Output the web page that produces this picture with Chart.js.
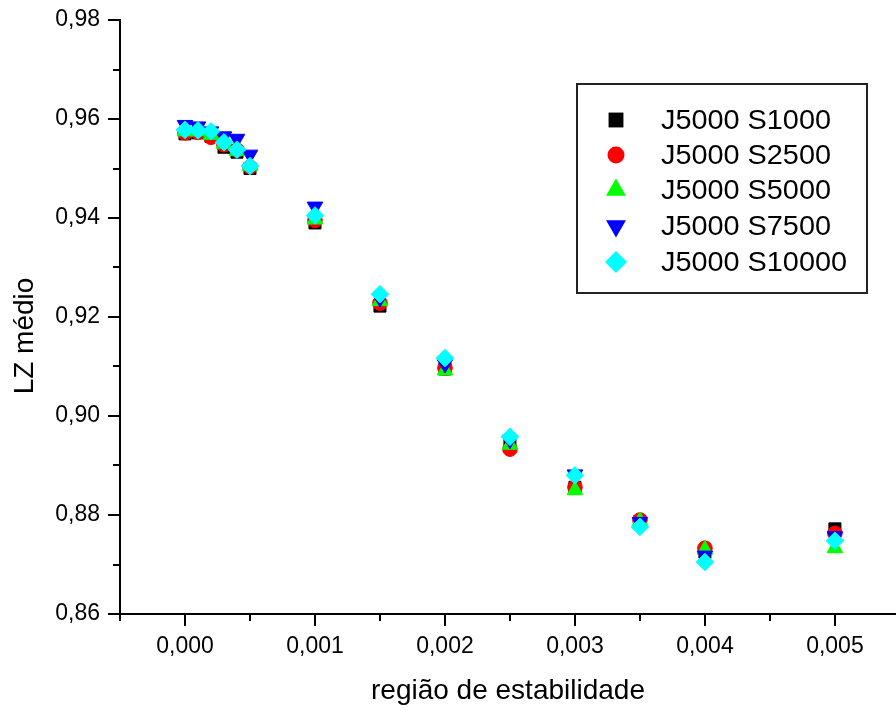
<!DOCTYPE html>
<html>
<head>
<meta charset="utf-8">
<script src="https://cdn.jsdelivr.net/npm/chart.js@4.4.0/dist/chart.umd.min.js"></script>
<style>
  html, body { margin: 0; padding: 0; background: #fff; }
</style>
</head>
<body>
<canvas id="chart" width="896" height="710"></canvas>
<script>
// --- data ---
const regiao = [0, 0.0001, 0.0002, 0.0003, 0.0004, 0.0005, 0.001, 0.0015, 0.002, 0.0025, 0.003, 0.0035, 0.004, 0.005];
const s1000  = [0.9570, 0.9572, 0.9565, 0.9543, 0.9533, 0.9500, 0.9390, 0.9222, 0.9095, 0.8948, 0.8856, 0.8787, 0.8725, 0.8772];
const s2500  = [0.9572, 0.9573, 0.9563, 0.9548, 0.9537, 0.9503, 0.9395, 0.9228, 0.9097, 0.8933, 0.8856, 0.8790, 0.8733, 0.8763];
const s5000  = [0.9575, 0.9575, 0.9568, 0.9550, 0.9535, 0.9505, 0.9397, 0.9232, 0.9092, 0.8942, 0.8850, 0.8788, 0.8730, 0.8733];
const s7500  = [0.9588, 0.9585, 0.9575, 0.9565, 0.9560, 0.9528, 0.9423, 0.9238, 0.9105, 0.8952, 0.8882, 0.8786, 0.8718, 0.8757];
const s10000 = [0.9578, 0.9577, 0.9575, 0.9553, 0.9538, 0.9505, 0.9405, 0.9246, 0.9117, 0.8958, 0.8880, 0.8776, 0.8705, 0.8748];

const seriesNames = ["J5000 S1000", "J5000 S2500", "J5000 S5000", "J5000 S7500", "J5000 S10000"];

const xTicks = [0, 0.001, 0.002, 0.003, 0.004, 0.005];
const xMinorTicks = [-0.0005, 0.0005, 0.0015, 0.0025, 0.0035, 0.0045];
const yTicks = [0.86, 0.88, 0.90, 0.92, 0.94, 0.96, 0.98];
const yMinorTicks = [0.87, 0.89, 0.91, 0.93, 0.95, 0.97];

const FONT = "'Liberation Sans', Arial, sans-serif";

const styles = [
  { color: "#000000", pointStyle: "rect",     radius: 8.5, rotation: 0 },
  { color: "#ff0000", pointStyle: "circle",   radius: 7.3, rotation: 0 },
  { color: "#00ff00", pointStyle: "triangle", radius: 9,   rotation: 0 },
  { color: "#0000ff", pointStyle: "triangle", radius: 9,   rotation: 180 },
  { color: "#00ffff", pointStyle: "rectRot",  radius: 8.8, rotation: 0 },
];

const allSeries = [s1000, s2500, s5000, s7500, s10000];

const datasets = allSeries.map((vals, i) => ({
  label: seriesNames[i],
  data: vals.map((v, k) => ({ x: regiao[k], y: v })),
  showLine: false,
  pointStyle: styles[i].pointStyle,
  pointRadius: styles[i].radius,
  pointHoverRadius: styles[i].radius,
  rotation: styles[i].rotation,
  backgroundColor: styles[i].color,
  borderColor: styles[i].color,
  borderWidth: 1,
  order: allSeries.length - i, // later series on top
}));

const fmt = (v, d) => v.toFixed(d).replace(".", ",");

// own marker for the legend box
function drawMarker(ctx, st, x, y, r) {
  ctx.save();
  ctx.fillStyle = st.color;
  ctx.beginPath();
  if (st.pointStyle === "rect") {
    const h = r * Math.SQRT1_2;
    ctx.rect(x - h, y - h, 2 * h, 2 * h);
  } else if (st.pointStyle === "circle") {
    ctx.arc(x, y, r, 0, Math.PI * 2);
  } else if (st.pointStyle === "triangle") {
    const dir = st.rotation === 180 ? -1 : 1;
    const w = r * Math.sqrt(3) / 2;
    ctx.moveTo(x, y - dir * r);
    ctx.lineTo(x + w, y + dir * r / 2);
    ctx.lineTo(x - w, y + dir * r / 2);
  } else {
    ctx.moveTo(x, y - r);
    ctx.lineTo(x + r, y);
    ctx.lineTo(x, y + r);
    ctx.lineTo(x - r, y);
  }
  ctx.closePath();
  ctx.fill();
  ctx.restore();
}

const extras = {
  id: "extras",
  afterDraw(chart) {
    const ctx = chart.ctx;
    const xs = chart.scales.x, ys = chart.scales.y;
    const area = chart.chartArea;
    ctx.save();
    ctx.strokeStyle = "#000";
    ctx.lineWidth = 2;

    // tick marks (outward)
    const tick = (x1, y1, x2, y2) => { ctx.beginPath(); ctx.moveTo(x1, y1); ctx.lineTo(x2, y2); ctx.stroke(); };
    xTicks.forEach((v) => { const p = Math.round(xs.getPixelForValue(v)); tick(p, area.bottom, p, area.bottom + 12); });
    xMinorTicks.forEach((v) => { const p = Math.round(xs.getPixelForValue(v)); tick(p, area.bottom, p, area.bottom + 7); });
    yTicks.forEach((v) => { const p = Math.round(ys.getPixelForValue(v)); tick(area.left, p, area.left - 12, p); });
    yMinorTicks.forEach((v) => { const p = Math.round(ys.getPixelForValue(v)); tick(area.left, p, area.left - 7, p); });

    // y axis title
    ctx.save();
    ctx.translate(33, 336);
    ctx.rotate(-Math.PI / 2);
    ctx.fillStyle = "#000";
    ctx.font = "28px " + FONT;
    ctx.textAlign = "center";
    ctx.textBaseline = "alphabetic";
    ctx.fillText("LZ médio", 0, 0);
    ctx.restore();

    // legend box
    ctx.fillStyle = "#fff";
    ctx.fillRect(577, 84, 290, 209);
    ctx.strokeStyle = "#222";
    ctx.lineWidth = 2;
    ctx.strokeRect(577, 84, 290, 209);
    ctx.font = "28px " + FONT;
    ctx.textAlign = "left";
    ctx.textBaseline = "alphabetic";
    const rows = [120, 155, 190, 226, 262];
    const legendR = [10.5, 8.5, 11.5, 11.5, 11];
    seriesNames.forEach((name, i) => {
      drawMarker(ctx, styles[i], 616, rows[i], legendR[i]);
      ctx.fillStyle = "#000";
      ctx.save();
      ctx.translate(661, rows[i] + 9);
      ctx.scale(1.03, 1);
      ctx.fillText(name, 0, 0);
      ctx.restore();
    });
    ctx.restore();
  },
};

new Chart(document.getElementById("chart"), {
  type: "scatter",
  data: { datasets },
  options: {
    responsive: false,
    animation: false,
    layout: { autoPadding: false, padding: { top: 20, right: 0, left: 0, bottom: 0 } },
    plugins: { legend: { display: false }, tooltip: { enabled: false } },
    scales: {
      x: {
        type: "linear",
        min: -0.0005,
        max: 0.00547,
        afterBuildTicks: (scale) => { scale.ticks = xTicks.map((v) => ({ value: v })); },
        afterFit: (scale) => { scale.height = 96; scale.paddingLeft = 0; scale.paddingRight = 0; },
        grid: { display: false, drawTicks: false },
        border: { display: true, color: "#000", width: 2 },
        ticks: {
          color: "#000",
          padding: 19,
          maxRotation: 0,
          font: { family: FONT, size: 23 },
          callback: (v) => fmt(v, 3),
        },
        title: {
          display: true,
          text: "região de estabilidade",
          color: "#000",
          font: { family: FONT, size: 28 },
          padding: { top: 0, bottom: 2 },
        },
      },
      y: {
        type: "linear",
        min: 0.86,
        max: 0.98,
        afterBuildTicks: (scale) => { scale.ticks = yTicks.map((v) => ({ value: v })); },
        afterFit: (scale) => { scale.width = 120; scale.paddingTop = 0; scale.paddingBottom = 0; },
        grid: { display: false, drawTicks: false },
        border: { display: true, color: "#000", width: 2 },
        ticks: {
          color: "#000",
          padding: 20,
          font: { family: FONT, size: 23 },
          callback: (v) => fmt(v, 2),
        },
      },
    },
  },
  plugins: [extras],
});
</script>
</body>
</html>
